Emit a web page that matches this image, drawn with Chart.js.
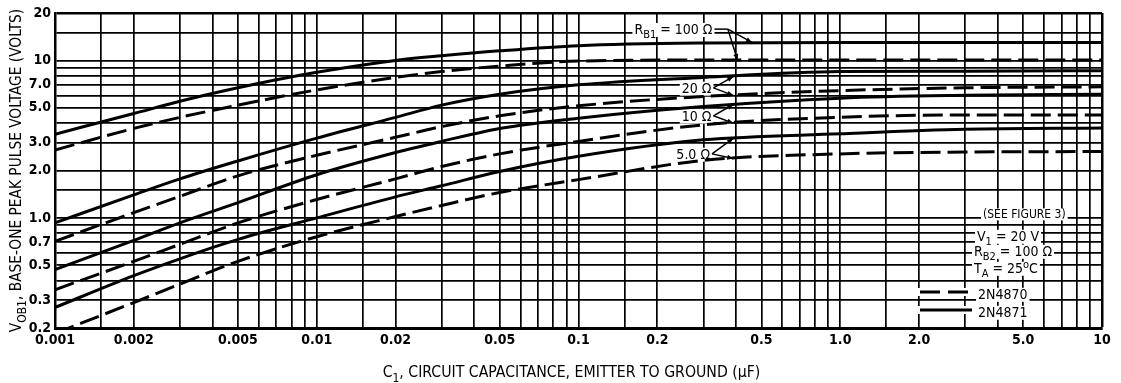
<!DOCTYPE html>
<html>
<head>
<meta charset="utf-8">
<script src="https://cdn.jsdelivr.net/npm/chart.js@4.4.1/dist/chart.umd.min.js"></script>
<style>
  html, body { margin: 0; padding: 0; background: #fff; }
  #wrap { width: 1121px; height: 383px; position: relative; }
</style>
</head>
<body>
<div id="wrap"><canvas id="vobChart"></canvas></div>
<script>
var FONT = "'Liberation Sans Narrow', 'DejaVu Sans Condensed', 'Arial Narrow', sans-serif";

var capacitance = [0.001, 0.002, 0.003, 0.005, 0.01, 0.02, 0.03, 0.05, 0.1, 0.3, 1, 3, 10];

// VOB1 (volts), solid = 2N4871, dashed = 2N4870
var solid100  = [3.4, 4.6, 5.5, 6.7, 8.4, 10.0, 10.7, 11.5, 12.4, 12.9, 13.0, 13.0, 13.0];
var dashed100 = [2.7, 3.7, 4.35, 5.2, 6.5, 7.8, 8.5, 9.2, 9.9, 10.05, 10.05, 10.05, 10.05];
var solid20   = [0.93, 1.4, 1.77, 2.3, 3.21, 4.35, 5.2, 6.1, 7.0, 7.8, 8.5, 8.55, 8.6];
var dashed20  = [0.71, 1.08, 1.37, 1.85, 2.5, 3.25, 3.8, 4.45, 5.15, 5.9, 6.43, 6.7, 6.8];
var solid10   = [0.47, 0.72, 0.93, 1.25, 1.88, 2.6, 3.06, 3.7, 4.3, 5.1, 5.76, 6.0, 6.1];
var dashed10  = [0.35, 0.53, 0.68, 0.93, 1.31, 1.77, 2.12, 2.55, 3.06, 3.9, 4.36, 4.5, 4.5];
var solid5    = [0.27, 0.43, 0.55, 0.73, 1.0, 1.36, 1.6, 1.97, 2.46, 3.13, 3.42, 3.65, 3.72];
var dashed5   = [0.185, 0.29, 0.38, 0.53, 0.76, 1.02, 1.2, 1.45, 1.75, 2.32, 2.55, 2.62, 2.64];

var xTickValues = [0.001, 0.002, 0.005, 0.01, 0.02, 0.05, 0.1, 0.2, 0.5, 1, 2, 5, 10];
var xTickText   = ['0.001', '0.002', '0.005', '0.01', '0.02', '0.05', '0.1', '0.2', '0.5', '1.0', '2.0', '5.0', '10'];
var yTickValues = [0.2, 0.3, 0.5, 0.7, 1, 2, 3, 5, 7, 10, 20];
var yTickText   = ['0.2', '0.3', '0.5', '0.7', '1.0', '2.0', '3.0', '5.0', '7.0', '10', '20'];
var gridSteps = [1, 1.5, 2, 3, 4, 5, 6, 7, 8, 9];

var xGrid = [];
[0.001, 0.01, 0.1, 1].forEach(function(d) {
  gridSteps.forEach(function(s) { xGrid.push(s * d); });
});
xGrid.push(10);
var yGrid = [];
[0.1, 1, 10].forEach(function(d) {
  gridSteps.forEach(function(s) {
    var v = s * d;
    if (v >= 0.2 - 1e-9 && v <= 20 + 1e-9) yGrid.push(v);
  });
});

function labelFor(values, texts, v) {
  for (var i = 0; i < values.length; i++) {
    if (Math.abs(values[i] / v - 1) < 1e-6) return texts[i];
  }
  return '';
}

function curve(label, values, dashed) {
  return {
    label: label,
    data: capacitance.map(function(c, i) { return { x: c, y: values[i] }; }),
    borderColor: '#000',
    backgroundColor: '#000',
    borderWidth: 3,
    borderDash: dashed ? [20, 7] : [],
    pointRadius: 0,
    fill: false,
    cubicInterpolationMode: 'monotone'
  };
}

// text pieces: [text, 'sub' | 'sup' | undefined]
function drawRich(ctx, parts, x, y, size, align, weight, bg) {
  var total = 0;
  var segs = parts.map(function(p) {
    var s = p[1] ? Math.round(size * 0.78) : size;
    ctx.font = (weight || 'normal') + ' ' + s + 'px ' + FONT;
    var w = ctx.measureText(p[0]).width;
    total += w;
    return { text: p[0], mode: p[1], s: s, w: w };
  });
  var cx = align === 'right' ? x - total : (align === 'center' ? x - total / 2 : x);
  if (bg) {
    ctx.fillStyle = '#fff';
    ctx.fillRect(cx - 2, y - size * 0.8, total + 4, size * 1.0);
  }
  ctx.fillStyle = '#000';
  ctx.textBaseline = 'alphabetic';
  ctx.textAlign = 'left';
  segs.forEach(function(sg) {
    ctx.font = (weight || 'normal') + ' ' + sg.s + 'px ' + FONT;
    var dy = sg.mode === 'sub' ? size * 0.3 : (sg.mode === 'sup' ? -size * 0.38 : 0);
    ctx.fillText(sg.text, cx, y + dy);
    cx += sg.w;
  });
  return total;
}

function arrowTo(ctx, x0, y0, x1, y1) {
  ctx.beginPath();
  ctx.moveTo(x0, y0);
  ctx.lineTo(x1, y1);
  ctx.stroke();
  var a = Math.atan2(y1 - y0, x1 - x0);
  ctx.beginPath();
  ctx.moveTo(x1, y1);
  ctx.lineTo(x1 - 6 * Math.cos(a) + 2.5 * Math.sin(a), y1 - 6 * Math.sin(a) - 2.5 * Math.cos(a));
  ctx.lineTo(x1 - 6 * Math.cos(a) - 2.5 * Math.sin(a), y1 - 6 * Math.sin(a) + 2.5 * Math.cos(a));
  ctx.closePath();
  ctx.fill();
}

// RB1 call-outs, in data units
var rbNotes = [
  { parts: [['R'], ['B1', 'sub'], [' = 100 Ω']], at: [0.325, 15.8], pivot: [0.372, 15.8], ends: [[0.46, 13.0], [0.405, 10.05]] },
  { parts: [['20 Ω']], at: [0.322, 6.69], ends: [[0.39, 7.9], [0.39, 6.0]] },
  { parts: [['10 Ω']], at: [0.322, 4.45], ends: [[0.39, 5.25], [0.39, 4.0]] },
  { parts: [['5.0 Ω']], at: [0.318, 2.55], ends: [[0.39, 3.2], [0.39, 2.38]] }
];

var notesPlugin = {
  id: 'notes',
  beforeDatasetsDraw: function(chart) {
    var ctx = chart.ctx, xs = chart.scales.x, ys = chart.scales.y, area = chart.chartArea;
    ctx.save();
    ctx.strokeStyle = '#000';
    ctx.fillStyle = '#000';
    ctx.lineWidth = 1.5;
    rbNotes.forEach(function(n) {
      var x = xs.getPixelForValue(n.at[0]), y = ys.getPixelForValue(n.at[1]);
      drawRich(ctx, n.parts, x, y + 5, 14, 'right', 'normal', true);
      var sx = x + 2, sy = y;
      ctx.strokeStyle = '#000';
      ctx.fillStyle = '#000';
      if (n.pivot) {
        var px = xs.getPixelForValue(n.pivot[0]);
        ctx.beginPath(); ctx.moveTo(sx, sy); ctx.lineTo(px, sy); ctx.stroke();
        sx = px;
      }
      n.ends.forEach(function(e) {
        arrowTo(ctx, sx, sy, xs.getPixelForValue(e[0]), ys.getPixelForValue(e[1]));
      });
    });

    // conditions box, lower right
    var r = area.right, b = area.bottom;
    drawRich(ctx, [['(SEE FIGURE 3)']], r - 119, b - 110, 12, 'left', 'normal', true);
    drawRich(ctx, [['V'], ['1', 'sub'], [' = 20 V']], r - 125, b - 87, 14, 'left', 'normal', true);
    drawRich(ctx, [['R'], ['B2', 'sub'], [' = 100 Ω']], r - 128, b - 72, 14, 'left', 'normal', true);
    drawRich(ctx, [['T'], ['A', 'sub'], [' = 25'], ['o', 'sup'], ['C']], r - 128, b - 55, 14, 'left', 'normal', true);
    drawRich(ctx, [['2N4870']], r - 124, b - 29, 14, 'left', 'normal', true);
    drawRich(ctx, [['2N4871']], r - 124, b - 11, 14, 'left', 'normal', true);
    ctx.fillStyle = '#fff';
    ctx.fillRect(r - 184, b - 40, 56, 8);
    ctx.fillRect(r - 184, b - 22, 56, 8);
    ctx.strokeStyle = '#000';
    ctx.lineWidth = 3;
    ctx.setLineDash([20, 8]);
    ctx.beginPath(); ctx.moveTo(r - 182, b - 36); ctx.lineTo(r - 130, b - 36); ctx.stroke();
    ctx.setLineDash([]);
    ctx.beginPath(); ctx.moveTo(r - 182, b - 18); ctx.lineTo(r - 130, b - 18); ctx.stroke();
    ctx.restore();
  },
  afterDraw: function(chart) {
    var ctx = chart.ctx, area = chart.chartArea;
    ctx.save();
    drawRich(ctx, [['C'], ['1', 'sub'], [', CIRCUIT CAPACITANCE, EMITTER TO GROUND (μF)']],
      (area.left + area.right) / 2 - 7, 377, 15.7, 'center', 'normal', false);
    ctx.translate(21, (area.top + area.bottom) / 2);
    ctx.rotate(-Math.PI / 2);
    drawRich(ctx, [['V'], ['OB1', 'sub'], [', BASE-ONE PEAK PULSE VOLTAGE (VOLTS)']],
      0, 0, 15.3, 'center', 'normal', false);
    ctx.restore();
  }
};

var ctx = document.getElementById('vobChart').getContext('2d');
var vobChart = new Chart(ctx, {
  type: 'line',
  data: {
    datasets: [
      curve('RB1 = 100 Ω, 2N4871', solid100, false),
      curve('RB1 = 100 Ω, 2N4870', dashed100, true),
      curve('RB1 = 20 Ω, 2N4871', solid20, false),
      curve('RB1 = 20 Ω, 2N4870', dashed20, true),
      curve('RB1 = 10 Ω, 2N4871', solid10, false),
      curve('RB1 = 10 Ω, 2N4870', dashed10, true),
      curve('RB1 = 5.0 Ω, 2N4871', solid5, false),
      curve('RB1 = 5.0 Ω, 2N4870', dashed5, true)
    ]
  },
  options: {
    responsive: true,
    maintainAspectRatio: false,
    animation: false,
    layout: { padding: { left: 0, right: 19, top: 13, bottom: 0 } },
    plugins: {
      legend: { display: false },
      tooltip: { enabled: false }
    },
    scales: {
      x: {
        type: 'logarithmic',
        min: 0.001,
        max: 10,
        afterBuildTicks: function(scale) {
          scale.ticks = xGrid.map(function(v) { return { value: v }; });
        },
        afterFit: function(scale) { scale.height = 55; },
        ticks: {
          autoSkip: false,
          maxRotation: 0,
          padding: 4,
          color: '#000',
          font: { family: FONT, size: 14, weight: 'bold' },
          callback: function(v) { return labelFor(xTickValues, xTickText, v); }
        },
        grid: {
          color: '#000',
          drawTicks: false,
          lineWidth: function(c) {
            return c.tick && (c.tick.value === 10) ? 2.5 : 1.7;
          }
        },
        border: { color: '#000', width: 3 }
      },
      y: {
        type: 'logarithmic',
        min: 0.2,
        max: 20,
        afterBuildTicks: function(scale) {
          scale.ticks = yGrid.map(function(v) { return { value: v }; });
        },
        afterFit: function(scale) { scale.width = 55; },
        ticks: {
          autoSkip: false,
          padding: 4,
          color: '#000',
          font: { family: FONT, size: 14, weight: 'bold' },
          callback: function(v) { return labelFor(yTickValues, yTickText, v); }
        },
        grid: {
          color: '#000',
          drawTicks: false,
          lineWidth: function(c) {
            return c.tick && Math.abs(c.tick.value - 20) < 1e-6 ? 2.5 : 1.7;
          }
        },
        border: { color: '#000', width: 2.5 }
      }
    }
  },
  plugins: [notesPlugin]
});
</script>
</body>
</html>
